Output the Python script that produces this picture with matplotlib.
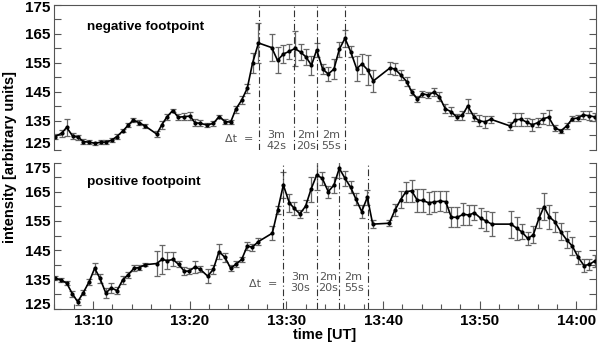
import matplotlib.pyplot as plt
from matplotlib.ticker import MultipleLocator, FixedLocator

plt.rcParams['font.family'] = ['Liberation Sans', 'DejaVu Sans']

# time in minutes after 13:00 UT
neg_time = [6.05, 6.75, 7.26, 7.88, 8.46, 8.98, 9.60, 10.19, 10.81, 11.33, 11.92, 12.44,
            13.12, 13.64, 14.15, 14.77, 15.36, 16.58, 17.09, 17.61, 18.23, 18.81, 19.43,
            20.02, 20.54, 21.06, 21.81, 22.43, 23.05, 23.64, 24.23, 24.75, 25.37, 25.95,
            26.49, 27.11, 28.48, 29.08, 29.68, 30.30, 30.87, 31.48, 32.02, 32.59, 33.13,
            33.75, 34.33, 34.92, 35.47, 36.06, 36.65, 37.27, 37.82, 38.41, 38.99, 40.72,
            41.23, 41.82, 42.44, 42.96, 43.56, 44.08, 44.68, 45.27, 45.82, 46.44, 47.03,
            47.62, 48.20, 48.76, 49.41, 49.93, 50.55, 51.14, 53.13, 53.70, 54.27, 54.86,
            55.44, 56.00, 56.58, 57.14, 57.76, 58.41, 59.00, 59.60, 60.17, 60.72, 61.31,
            61.93]
neg_int = [129.6, 130.8, 132.8, 129.8, 129.4, 127.9, 127.7, 127.3, 127.7, 127.7, 128.4, 129.6,
           131.7, 133.6, 135.3, 134.4, 133.3, 130.5, 133.6, 136.3, 138.6, 136.3, 136.5,
           136.7, 134.4, 134.2, 133.6, 134.2, 136.5, 134.8, 134.6, 139.0, 142.2, 146.3,
           154.9, 161.9, 160.3, 155.9, 158.1, 159.0, 160.0, 158.7, 157.1, 154.2, 159.5,
           152.9, 151.2, 152.9, 159.7, 163.5, 158.9, 153.0, 154.7, 152.6, 148.8, 153.3,
           152.9, 150.9, 148.6, 145.1, 142.5, 144.4, 143.9, 145.0, 143.4, 139.2, 138.2,
           136.4, 136.9, 140.2, 136.4, 135.1, 134.7, 135.6, 133.3, 135.4, 135.6, 134.6,
           133.7, 134.4, 135.8, 136.3, 132.7, 131.6, 133.3, 135.8, 136.0, 137.1, 136.8,
           136.4]
neg_err = [0.8, 1.2, 3.0, 1.0, 0.8, 0.8, 0.8, 0.6, 0.8, 0.8, 0.6, 0.8,
           0.6, 0.6, 0.8, 0.8, 0.6, 1.0, 1.5, 1.0, 0.6, 1.0, 1.2,
           1.5, 1.2, 1.0, 0.8, 0.8, 0.6, 0.8, 0.8, 1.2, 1.5, 1.5,
           3.4, 7.0, 4.6, 4.5, 3.2, 2.7, 6.0, 2.7, 2.7, 3.3, 2.5,
           1.8, 2.3, 3.4, 2.6, 3.0, 2.0, 4.3, 3.4, 5.2, 3.7, 2.0,
           2.0, 1.7, 1.7, 1.0, 1.0, 1.0, 1.0, 1.5, 1.5, 1.5, 1.5,
           1.0, 1.5, 2.3, 1.5, 2.0, 2.0, 1.2, 1.5, 2.3, 2.3, 1.5,
           2.0, 1.5, 2.0, 2.6, 1.0, 0.8, 1.0, 0.8, 1.0, 1.5, 1.5,
           1.5]

pos_time = [6.05, 6.67, 7.26, 7.84, 8.40, 8.98, 9.59, 10.16, 10.71, 11.31, 11.88, 12.47,
            13.06, 13.61, 14.23, 14.77, 15.36, 16.58, 17.12, 17.69, 18.26, 18.85, 19.42,
            19.95, 20.54, 21.09, 21.85, 22.43, 23.02, 23.64, 24.23, 24.80, 25.37, 25.95,
            26.47, 27.09, 28.54, 29.10, 29.68, 30.30, 30.81, 31.40, 31.99, 32.54, 33.13,
            33.71, 34.33, 34.92, 35.47, 36.06, 36.65, 37.20, 37.79, 38.37, 38.93, 40.64,
            41.23, 41.82, 42.37, 42.96, 43.54, 44.11, 44.72, 45.32, 45.89, 46.48, 47.06,
            47.68, 48.30, 48.89, 49.44, 50.10, 50.65, 51.24, 53.24, 53.83, 54.34, 54.97,
            55.54, 56.13, 56.65, 57.20, 57.79, 58.38, 59.00, 59.58, 60.20, 60.79, 61.34,
            61.93]
pos_int = [135.4, 134.8, 133.7, 130.1, 127.3, 130.4, 134.2, 138.8, 135.3, 130.3, 132.1, 131.1,
           134.8, 136.5, 138.8, 139.0, 140.0, 140.4, 141.8, 141.4, 141.8, 140.1, 137.8,
           137.8, 139.3, 138.4, 136.1, 138.4, 144.5, 142.5, 138.8, 140.2, 141.8, 146.4,
           146.0, 147.9, 150.8, 158.7, 167.3, 161.2, 159.3, 157.4, 160.1, 165.8, 170.7,
           169.6, 165.0, 167.3, 173.0, 169.6, 166.5, 162.4, 158.2, 163.1, 153.9, 154.2,
           158.7, 162.3, 165.0, 165.3, 162.1, 162.0, 161.2, 161.5, 161.8, 161.6, 156.3,
           156.2, 157.3, 157.0, 157.8, 155.9, 155.0, 153.9, 153.9, 152.5, 151.3, 149.0,
           150.2, 155.9, 159.9, 156.4, 154.7, 151.3, 148.5, 146.4, 142.5, 139.7, 140.1,
           141.3]
pos_err = [0.8, 0.6, 0.6, 1.0, 1.0, 0.8, 1.0, 1.9, 1.5, 1.7, 1.7, 1.2,
           1.5, 1.0, 1.0, 0.8, 0.6, 4.2, 5.0, 2.8, 2.4, 1.0, 1.4,
           1.0, 2.0, 1.0, 2.3, 1.5, 2.7, 1.5, 1.0, 1.0, 1.0, 1.5,
           1.2, 1.2, 2.3, 1.5, 4.5, 3.1, 2.3, 1.4, 2.0, 4.3, 5.1,
           2.3, 2.0, 2.9, 3.4, 2.6, 2.0, 2.0, 2.3, 2.6, 1.3, 1.1,
           2.0, 2.9, 3.4, 3.8, 3.9, 4.0, 3.7, 3.6, 3.4, 3.6, 3.4,
           3.4, 3.7, 3.4, 2.6, 3.4, 3.4, 4.0, 4.6, 4.0, 2.6, 2.3,
           2.9, 3.4, 4.6, 4.0, 3.4, 2.9, 2.9, 3.1, 2.3, 2.3, 2.0,
           2.1]

neg_lines = [27.13, 30.83, 33.16, 36.08]
neg_dt = [('3m', '42s'), ('2m', '20s'), ('2m', '55s')]
pos_lines = [29.66, 33.16, 35.49, 38.41]
pos_dt = [('3m', '30s'), ('2m', '20s'), ('2m', '55s')]

time_ticks = [10, 20, 30, 40, 50, 60]
time_labels = ['13:10', '13:20', '13:30', '13:40', '13:50', '14:00']
int_ticks = [125, 130, 135, 140, 145, 150, 155, 160, 165, 170, 175]
int_labels = ['', '', '135', '', '145', '', '155', '', '165', '', '']

frame = '#555555'


def panel(ax, t, v, e, lines, dt, dt_y, name, name_y, edge_shift):
    ax.errorbar(t, v, yerr=e, color='black', lw=1.2, marker='o', ms=2,
                ecolor='#666666', elinewidth=0.9, capsize=2.2, capthick=0.9)
    for x in lines:
        ax.axvline(x, color='#333333', lw=0.8, linestyle=(0, (6, 2.5, 1, 2.5)))
    # delta-t annotations between the dash-dot lines
    ax.text(lines[0] - 0.6, dt_y[1], '\u0394t  =', ha='right', va='center',
            fontsize=8, color='#555555', family='DejaVu Sans')
    for i, (m, s) in enumerate(dt):
        xc = (lines[i] + lines[i + 1]) / 2
        ax.text(xc, dt_y[0], m, ha='center', va='center', fontsize=8,
                color='#555555', family='DejaVu Sans')
        ax.text(xc, dt_y[2], s, ha='center', va='center', fontsize=8,
                color='#555555', family='DejaVu Sans')
    ax.text(0.0595, name_y, name, transform=ax.transAxes, fontsize=9.7,
            fontweight='bold', va='center')

    ax.set_xlim(6, 62)
    ax.set_ylim(125, 175)
    ax.set_yticks(int_ticks)
    ax.set_yticklabels(int_labels, fontsize=11, fontweight='bold')
    ax.tick_params(axis='y', direction='in', left=True, right=True, length=5,
                   width=0.8, color=frame, pad=3.2)
    # end labels sit inside the axis range, as in the original
    for val, dy in zip([175, 125], edge_shift):
        ax.annotate(str(val), xy=(0, val), xycoords=('axes fraction', 'data'),
                    xytext=(-3.2, dy), textcoords='offset points', ha='right',
                    va='center', fontsize=11, fontweight='bold')
    for sp in ax.spines.values():
        sp.set_color(frame)
        sp.set_linewidth(0.8)


fig = plt.figure(figsize=(6, 3.48), dpi=100)
ax1 = fig.add_axes([0.0908, 0.569, 0.902, 0.4167])
ax2 = fig.add_axes([0.0908, 0.1135, 0.902, 0.4195])

panel(ax1, neg_time, neg_int, neg_err, neg_lines, neg_dt, (130.2, 128.8, 126.4),
      'negative footpoint', 0.85, (-2.4, 4.3))
panel(ax2, pos_time, pos_int, pos_err, pos_lines, pos_dt, (135.7, 133.4, 131.9),
      'positive footpoint', 0.868, (-4.7, 2.5))

ax1.spines['bottom'].set_visible(False)
ax1.tick_params(axis='x', which='both', bottom=False, labelbottom=False)
ax2.spines['top'].set_visible(False)

ax2.xaxis.set_major_locator(FixedLocator(time_ticks))
ax2.xaxis.set_minor_locator(MultipleLocator(2))
ax2.set_xticklabels(time_labels, fontsize=11, fontweight='bold')
ax2.tick_params(axis='x', which='major', direction='in', length=5.8, width=0.8,
                color=frame, pad=3.8)
ax2.tick_params(axis='x', which='minor', direction='in', length=3.6, width=0.8,
                color=frame)
ax2.set_xlabel('time [UT]', fontsize=10.5, fontweight='bold', labelpad=0)

fig.text(0.017, 1 - 157 / 348, 'intensity [arbitrary units]', rotation=90,
         ha='center', va='center', fontsize=10.5, fontweight='bold')

fig.savefig('out.png', dpi=100)
